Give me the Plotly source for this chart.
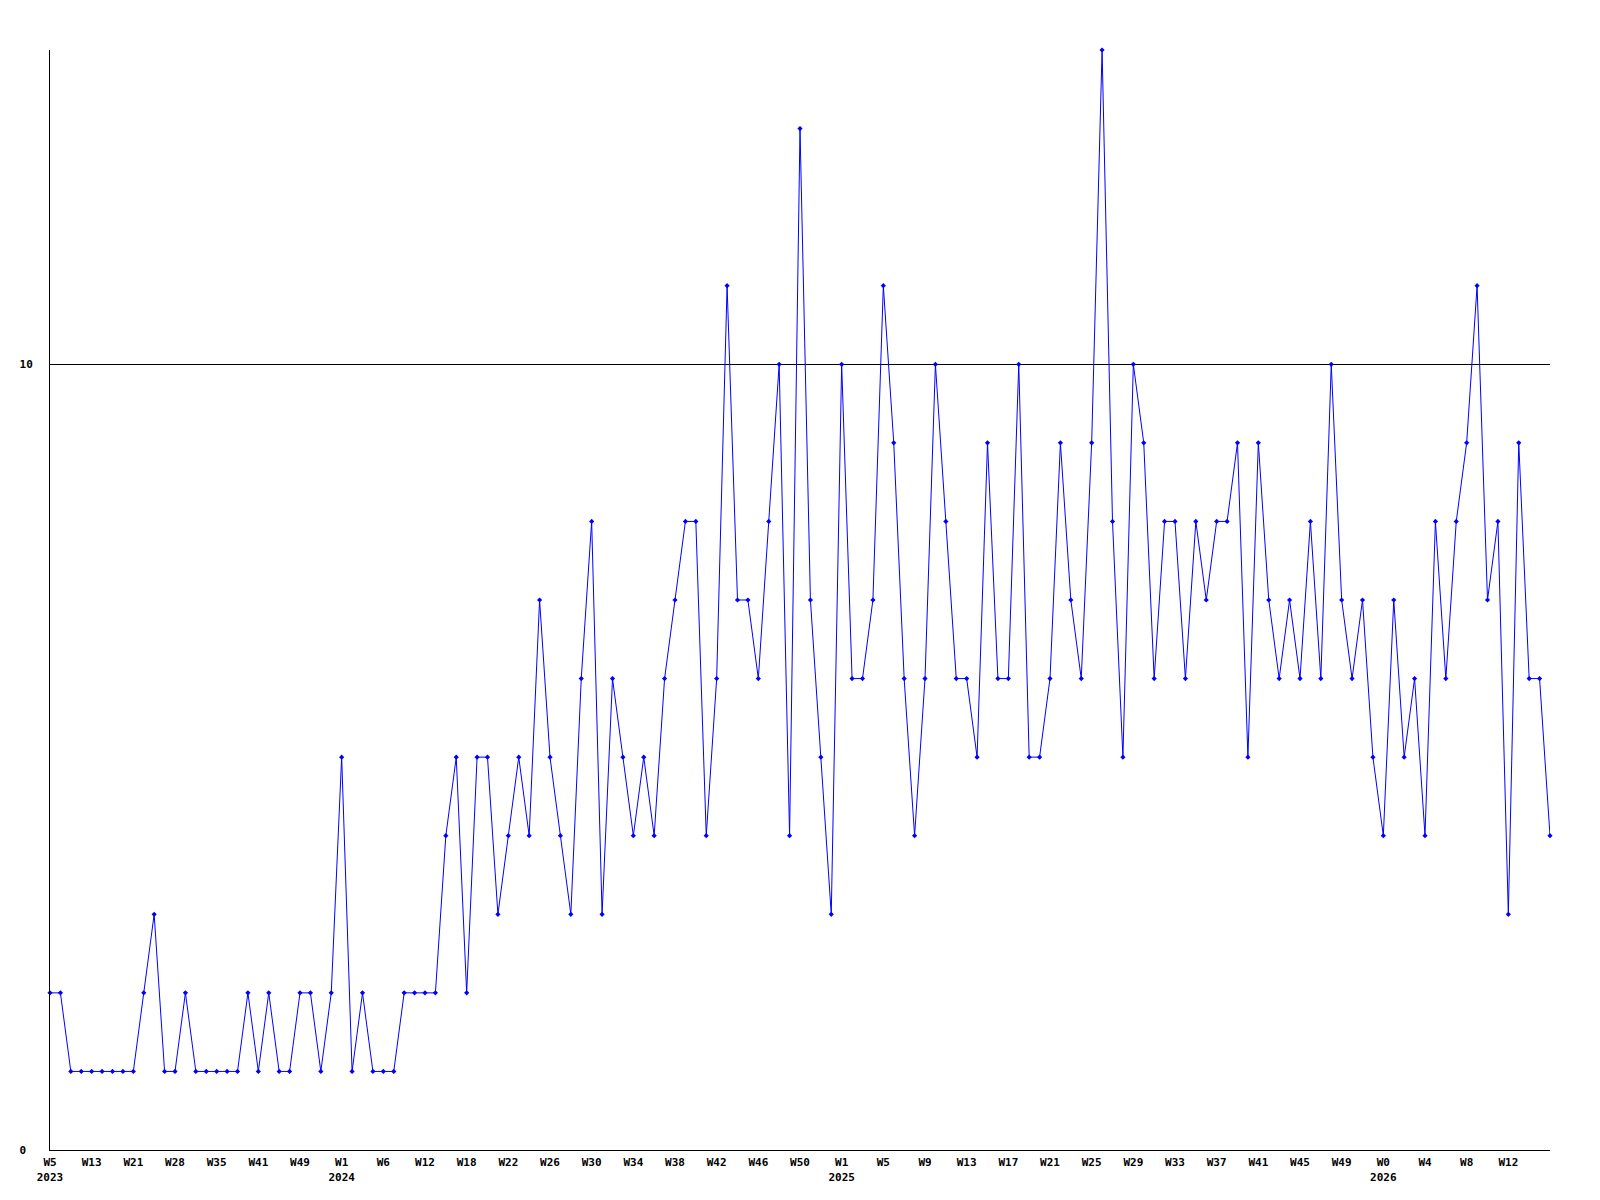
import plotly.graph_objects as go

values = [
    2, 2, 1, 1, 1, 1, 1, 1, 1, 2, 3, 1, 1, 2, 1, 1, 1, 1,
    1, 2, 1, 2, 1, 1, 2, 2, 1, 2, 5, 1, 2, 1, 1, 1, 2, 2,
    2, 2, 4, 5, 2, 5, 5, 3, 4, 5, 4, 7, 5, 4, 3, 6, 8, 3,
    6, 5, 4, 5, 4, 6, 7, 8, 8, 4, 6, 11, 7, 7, 6, 8, 10, 4, 13,
    7, 5, 3, 10, 6, 6, 7, 11, 9, 6, 4, 6, 10, 8, 6, 6, 5, 9,
    6, 6, 10, 5, 5, 6, 9, 7, 6, 9, 14, 8, 5, 10, 9, 6, 8, 8,
    6, 8, 7, 8, 8, 9, 5, 9, 7, 6, 7, 6, 8, 6, 10, 7, 6, 7,
    5, 4, 7, 5, 6, 4, 8, 6, 8, 9, 11, 7, 8, 3, 9, 6, 6, 4,
]

tick_labels = [
    "W5<br>2023", "W13", "W21", "W28", "W35", "W41", "W49",
    "W1<br>2024", "W6", "W12", "W18", "W22", "W26", "W30", "W34", "W38",
    "W42", "W46", "W50",
    "W1<br>2025", "W5", "W9", "W13", "W17", "W21", "W25", "W29", "W33",
    "W37", "W41", "W45", "W49",
    "W0<br>2026", "W4", "W8", "W12",
]
tick_step = 4

y_ticks = [0, 10]
y_tick_labels = ["0\u00a0", "10"]

x = list(range(len(values)))
tick_positions = [i * tick_step for i in range(len(tick_labels))]

fig = go.Figure()
fig.add_trace(go.Scatter(
    x=x, y=values, mode="lines+markers",
    line=dict(color="#0000ff", width=1),
    marker=dict(symbol="diamond", size=4, color="#0000ff"),
    cliponaxis=False,
    showlegend=False,
))

font = dict(family="DejaVu Sans Mono", size=11, color="black", weight="bold")

# page body has an 8px default margin, so margins compensate for it
fig.update_layout(
    width=1600, height=1200,
    margin=dict(l=42, r=58, t=42, b=58),
    paper_bgcolor="white", plot_bgcolor="white",
    xaxis=dict(
        range=[0, len(values) - 1],
        tickmode="array", tickvals=tick_positions, ticktext=tick_labels,
        showgrid=False, zeroline=False,
        showline=True, linecolor="black", linewidth=1,
        ticks="", tickfont=font, ticklabelstandoff=2,
    ),
    yaxis=dict(
        range=[0, 14],
        tickmode="array", tickvals=y_ticks, ticktext=y_tick_labels,
        showgrid=True, gridcolor="black", gridwidth=1,
        zeroline=False,
        showline=True, linecolor="black", linewidth=1,
        ticks="", tickfont=font, ticklabelstandoff=14,
    ),
)

fig.write_html("out.html")
